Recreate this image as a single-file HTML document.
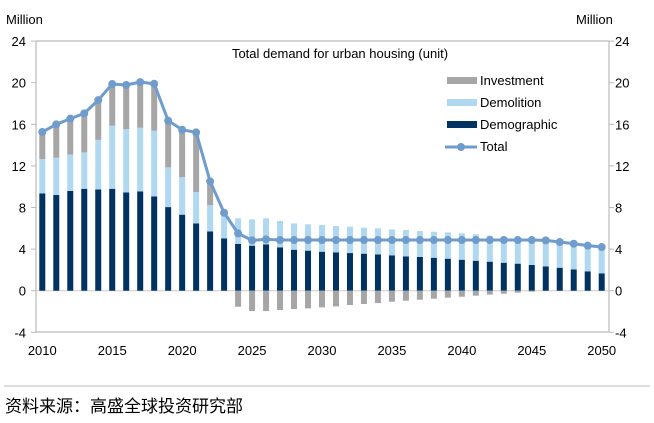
<!DOCTYPE html>
<html><head><meta charset="utf-8"><style>
body{margin:0;background:#fff;}
svg{display:block;font-family:"Liberation Sans",Arial,sans-serif;}
</style></head><body>
<svg id="chart" width="654" height="423" viewBox="0 0 654 423">
<text x="6" y="24" font-size="13" fill="#000">Million</text>
<text x="576" y="24" font-size="13" fill="#000">Million</text>
<text x="340" y="58" font-size="13" text-anchor="middle" fill="#000">Total demand for urban housing (unit)</text>
<line x1="36" y1="41" x2="609" y2="41" stroke="#bbb" stroke-width="1.2"/>
<line x1="36" y1="41" x2="36" y2="332" stroke="#bbb" stroke-width="1.2"/>
<line x1="609" y1="41" x2="609" y2="332" stroke="#bbb" stroke-width="1.2"/>
<line x1="36" y1="332" x2="609" y2="332" stroke="#bbb" stroke-width="1.2"/>
<g id="ticks"></g>
<g id="bars"></g>
<g id="line"></g>
<g>
<rect x="447" y="77" width="30" height="7" fill="#a6a6a6"/>
<text x="480" y="85" font-size="13">Investment</text>
<rect x="447" y="99" width="30" height="7" fill="#b0d8f0"/>
<text x="480" y="107" font-size="13">Demolition</text>
<rect x="447" y="121" width="30" height="7" fill="#003361"/>
<text x="480" y="129" font-size="13">Demographic</text>
<line x1="445" y1="147" x2="477" y2="147" stroke="#6f9ccc" stroke-width="3"/>
<circle cx="461" cy="147" r="4" fill="#6f9ccc"/>
<text x="480" y="151" font-size="13">Total</text>
</g>
<line x1="4" y1="386" x2="650" y2="386" stroke="#bbb" stroke-width="1"/>
<text x="5" y="412" font-size="17" font-family="'Liberation Sans','Noto Sans CJK SC',sans-serif">资料来源：高盛全球投资研究部</text>
</svg>
<script>
const years=[];for(let y=2010;y<=2050;y++)years.push(y);
const demographic=[9.36,9.2,9.6,9.8,9.74,9.8,9.45,9.55,9.07,8.04,7.31,6.47,5.7,5.03,4.49,4.33,4.46,4.17,3.94,3.85,3.75,3.69,3.62,3.56,3.49,3.40,3.30,3.24,3.17,3.08,2.98,2.88,2.79,2.69,2.60,2.47,2.34,2.21,2.05,1.86,1.67];
const demolition=[3.3,3.59,3.5,3.5,4.76,6.07,6.09,6.12,6.31,3.82,3.62,3.02,2.54,2.25,2.47,2.53,2.5,2.53,2.53,2.53,2.56,2.53,2.53,2.5,2.5,2.5,2.53,2.5,2.5,2.53,2.53,2.54,2.5,2.5,2.5,2.53,2.6,2.6,2.6,2.6,2.56];
const investment=[2.6,3.2,3.44,3.75,3.83,4.0,4.24,4.39,4.52,4.49,4.55,5.73,2.27,0.22,-1.54,-1.96,-1.96,-1.86,-1.76,-1.70,-1.60,-1.51,-1.38,-1.28,-1.19,-1.06,-0.96,-0.87,-0.77,-0.67,-0.58,-0.48,-0.38,-0.29,-0.19,-0.1,0,0,0,0,0];
const total=[15.26,15.99,16.54,17.05,18.33,19.87,19.78,20.06,19.9,16.35,15.48,15.22,10.51,7.5,5.51,4.84,4.94,4.87,4.87,4.87,4.87,4.87,4.87,4.87,4.87,4.87,4.87,4.87,4.87,4.87,4.87,4.87,4.87,4.87,4.87,4.87,4.84,4.68,4.52,4.33,4.2];
const yTicks=[-4,0,4,8,12,16,20,24];
const xLabels=[2010,2015,2020,2025,2030,2035,2040,2045,2050];
const NS='http://www.w3.org/2000/svg';
const xs=y=>42.3+(y-2010)*13.985;
const ys=v=>290.7-v*10.4;
function mk(tag,attrs,parent){const e=document.createElementNS(NS,tag);for(const k in attrs)e.setAttribute(k,attrs[k]);parent.appendChild(e);return e;}
const tg=document.getElementById('ticks');
yTicks.forEach(v=>{
 let t=mk('text',{x:26,y:ys(v)+5,'font-size':13,'text-anchor':'end'},tg);t.textContent=v;
 
 
 let t2=mk('text',{x:615,y:ys(v)+5,'font-size':13},tg);t2.textContent=v;
 
 
 let l=mk('line',{x1:609,x2:614,y1:ys(v),y2:ys(v),stroke:'#bbb'},tg);
 
 
 let l2=mk('line',{x1:31,x2:36,y1:ys(v),y2:ys(v),stroke:'#bbb'},tg);
 
 
});
let z=mk('line',{x1:36,x2:609,y1:ys(0),y2:ys(0),stroke:'#ccc'},tg);


xLabels.forEach(y=>{let t=mk('text',{x:xs(y),y:355,'font-size':13,'text-anchor':'middle'},tg);t.textContent=y;
 
 });
const bg=document.getElementById('bars');const bw=6;
years.forEach((yr,i)=>{
 const x=xs(yr)-bw/2;
 const d=demographic[i],m=demolition[i],inv=investment[i];
 let r1=mk('rect',{x:x,y:ys(d),width:bw,height:ys(0)-ys(d),fill:'#003361'},bg);
 
 
 let r2=mk('rect',{x:x,y:ys(d+m),width:bw,height:ys(d)-ys(d+m),fill:'#b0d8f0'},bg);
 
 
 let r3;
 if(inv>=0) r3=mk('rect',{x:x,y:ys(d+m+inv),width:bw,height:ys(d+m)-ys(d+m+inv),fill:'#a6a6a6'},bg);
 else r3=mk('rect',{x:x,y:ys(0),width:bw,height:ys(inv)-ys(0),fill:'#a6a6a6'},bg);
 
 
});
const lg=document.getElementById('line');
let p=mk('polyline',{points:years.map((y,i)=>xs(y)+','+ys(total[i])).join(' '),fill:'none',stroke:'#6f9ccc','stroke-width':3},lg);


years.forEach((y,i)=>{let c=mk('circle',{cx:xs(y),cy:ys(total[i]),r:4,fill:'#6f9ccc'},lg);
 
 });
</script>
</body></html>
